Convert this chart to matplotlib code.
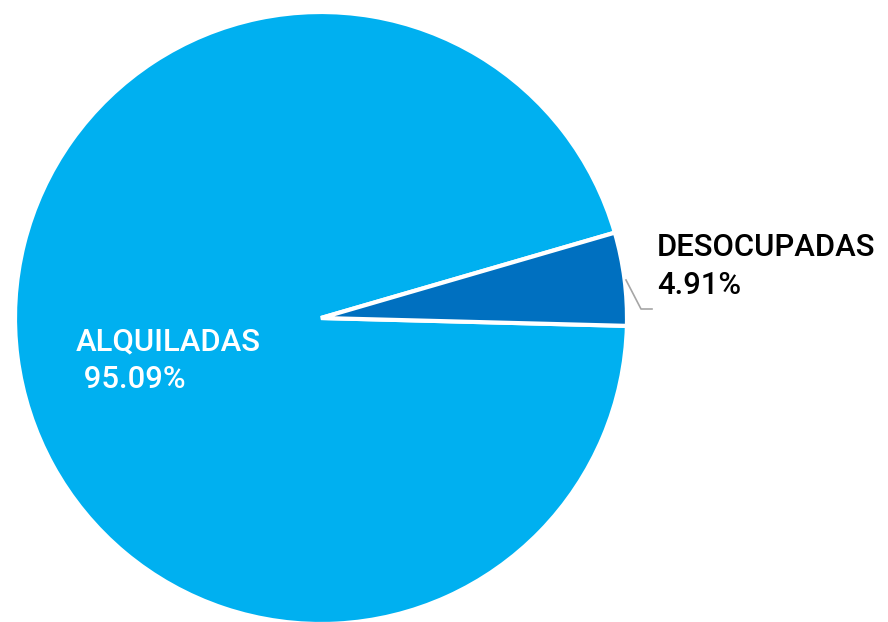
import matplotlib.pyplot as plt

# Data
labels = ["ALQUILADAS", "DESOCUPADAS"]
values = [95.09, 4.91]
colors = ["#00B0F0", "#0070C0"]

W, H = 888, 622
fig = plt.figure(figsize=(W / 100, H / 100), dpi=100)
ax = fig.add_axes([0, 0, 1, 1])

cx, cy, r = 321, H - 318, 306
ax.pie(values, colors=colors, startangle=16.2, center=(cx, cy), radius=r,
       wedgeprops=dict(edgecolor="white", linewidth=3), frame=True)
ax.set_xlim(0, W)
ax.set_ylim(0, H)
ax.set_aspect("equal")
ax.axis("off")

font = dict(family=["Roboto", "DejaVu Sans"], fontsize=22.3, fontweight="medium")

# ALQUILADAS label inside the slice
ax.text(76, H - 350, labels[0], color="white", ha="left", va="baseline", **font)
ax.text(76, H - 388, f" {values[0]:.2f}%", color="white", ha="left", va="baseline", **font)

# DESOCUPADAS label outside with leader line
ax.plot([626, 641, 652], [H - 280, H - 309, H - 309], color="#a6a6a6", lw=1.2)
ax.text(657, H - 256, labels[1], color="black", ha="left", va="baseline", **font)
ax.text(657, H - 294, f"{values[1]:.2f}%", color="black", ha="left", va="baseline", **font)

fig.savefig("out.png", dpi=100)
